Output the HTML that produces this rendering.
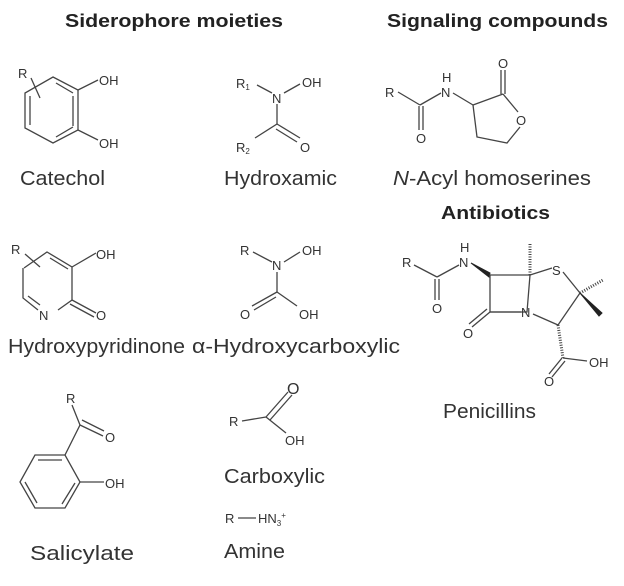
<!DOCTYPE html>
<html><head><style>
body{margin:0;background:#fff}
svg{display:block}
text{font-family:"Liberation Sans",sans-serif;fill:#333}
.l{font-size:20px}
.a{font-size:13px}
.t{font-size:18px;font-weight:bold;fill:#222}
line,polyline,polygon{stroke:#444;stroke-width:1.3;fill:none}
</style></head><body>
<svg width="624" height="586" viewBox="0 0 624 586" xmlns="http://www.w3.org/2000/svg">
<text class="t" x="65" y="27" textLength="218" lengthAdjust="spacingAndGlyphs">Siderophore moieties</text>
<text class="t" x="387" y="27" textLength="221" lengthAdjust="spacingAndGlyphs">Signaling compounds</text>

<!-- Catechol -->
<polygon points="53,77 78,90 78,130 53,143 25,128 25,93"/>
<line x1="56" y1="83" x2="73" y2="93"/>
<line x1="73" y1="96" x2="73" y2="126"/>
<line x1="30" y1="96" x2="30" y2="125"/>
<line x1="56" y1="137" x2="73" y2="127"/>
<line x1="78" y1="90" x2="98" y2="80"/>
<line x1="78" y1="130" x2="98" y2="140"/>
<line x1="31" y1="78" x2="40" y2="98"/>
<text class="a" x="18" y="78">R</text>
<text class="a" x="99" y="85">OH</text>
<text class="a" x="99" y="148">OH</text>
<text class="l" x="20" y="185" textLength="85" lengthAdjust="spacingAndGlyphs">Catechol</text>

<!-- Hydroxamic -->
<text class="a" x="236" y="88">R<tspan font-size="8" dy="2">1</tspan></text>
<text class="a" x="272" y="103">N</text>
<text class="a" x="302" y="87">OH</text>
<text class="a" x="236" y="152">R<tspan font-size="8" dy="2">2</tspan></text>
<text class="a" x="300" y="152">O</text>
<line x1="257" y1="85" x2="272" y2="93"/>
<line x1="284" y1="93" x2="300" y2="84"/>
<line x1="277" y1="104" x2="277" y2="124"/>
<line x1="277" y1="124" x2="255" y2="138"/>
<line x1="277" y1="124" x2="300" y2="138"/>
<line x1="276" y1="129" x2="297" y2="142"/>
<text class="l" x="224" y="185" textLength="113" lengthAdjust="spacingAndGlyphs">Hydroxamic</text>

<!-- Hydroxypyridinone -->
<polyline points="24,268 47,252 72,267 72,300 58,310"/>
<polyline points="38,310 23,298 23,268"/>
<line x1="50" y1="258" x2="68" y2="269"/>
<line x1="28" y1="296" x2="40" y2="305"/>
<line x1="72" y1="267" x2="96" y2="253"/>
<line x1="72" y1="300" x2="96" y2="313"/>
<line x1="70" y1="304" x2="94" y2="317"/>
<line x1="25" y1="254" x2="40" y2="267"/>
<text class="a" x="11" y="254">R</text>
<text class="a" x="39" y="320">N</text>
<text class="a" x="96" y="259">OH</text>
<text class="a" x="96" y="320">O</text>
<text class="l" x="8" y="353" textLength="177" lengthAdjust="spacingAndGlyphs">Hydroxypyridinone</text>

<!-- alpha-hydroxycarboxylic -->
<text class="a" x="240" y="255">R</text>
<text class="a" x="272" y="270">N</text>
<text class="a" x="302" y="255">OH</text>
<text class="a" x="240" y="319">O</text>
<text class="a" x="299" y="319">OH</text>
<line x1="253" y1="252" x2="272" y2="262"/>
<line x1="284" y1="262" x2="300" y2="252"/>
<line x1="277" y1="272" x2="277" y2="292"/>
<line x1="277" y1="292" x2="297" y2="306"/>
<line x1="277" y1="292" x2="252" y2="306"/>
<line x1="276" y1="297" x2="254" y2="310"/>
<text class="l" x="192" y="353" textLength="208" lengthAdjust="spacingAndGlyphs">α-Hydroxycarboxylic</text>

<!-- Salicylate -->
<polygon points="35,455 65,455 80,482 65,508 35,508 20,482"/>
<line x1="38" y1="460" x2="62" y2="460"/>
<line x1="75" y1="483" x2="62" y2="504"/>
<line x1="25" y1="482" x2="37" y2="503"/>
<line x1="65" y1="455" x2="80" y2="425"/>
<line x1="80" y1="425" x2="72" y2="405"/>
<line x1="80" y1="425" x2="103" y2="436"/>
<line x1="82" y1="420" x2="104" y2="431"/>
<line x1="80" y1="482" x2="104" y2="482"/>
<text class="a" x="66" y="403">R</text>
<text class="a" x="105" y="442">O</text>
<text class="a" x="105" y="488">OH</text>
<text class="l" x="30" y="560" textLength="104" lengthAdjust="spacingAndGlyphs">Salicylate</text>

<!-- Carboxylic -->
<text class="a" x="229" y="426">R</text>
<line x1="242" y1="421" x2="266" y2="417"/>
<line x1="266" y1="417" x2="288" y2="392"/>
<line x1="270" y1="420" x2="292" y2="395"/>
<line x1="266" y1="417" x2="286" y2="433"/>
<text x="287" y="394" style="font-size:16px">O</text>
<text class="a" x="285" y="445">OH</text>
<text class="l" x="224" y="483" textLength="101" lengthAdjust="spacingAndGlyphs">Carboxylic</text>
<text class="a" x="225" y="523">R</text>
<line x1="238" y1="518" x2="256" y2="518"/>
<text class="a" x="258" y="523">HN<tspan font-size="8" dy="3">3</tspan><tspan font-size="8" dy="-8">+</tspan></text>
<text class="l" x="224" y="558" textLength="61" lengthAdjust="spacingAndGlyphs">Amine</text>

<!-- N-Acyl homoserine -->
<text class="a" x="385" y="97">R</text>
<line x1="398" y1="92" x2="420" y2="105"/>
<line x1="420" y1="105" x2="441" y2="93"/>
<line x1="419" y1="106" x2="419" y2="130"/>
<line x1="423" y1="106" x2="423" y2="130"/>
<text class="a" x="416" y="143">O</text>
<text class="a" x="441" y="97">N</text>
<text class="a" x="442" y="82">H</text>
<line x1="453" y1="93" x2="473" y2="105"/>
<line x1="473" y1="105" x2="503" y2="94"/>
<line x1="501" y1="94" x2="501" y2="70"/>
<line x1="505" y1="94" x2="505" y2="70"/>
<text class="a" x="498" y="68">O</text>
<line x1="503" y1="94" x2="518" y2="112"/>
<text class="a" x="516" y="125">O</text>
<polyline points="520,127 507,143 477,137 473,105"/>
<text class="l" x="393" y="185" textLength="198" lengthAdjust="spacingAndGlyphs"><tspan font-style="italic">N</tspan>-Acyl homoserines</text>
<text class="t" x="441" y="219" textLength="109" lengthAdjust="spacingAndGlyphs">Antibiotics</text>

<!-- Penicillin -->
<text class="a" x="402" y="267">R</text>
<line x1="414" y1="265" x2="437" y2="277"/>
<line x1="437" y1="277" x2="459" y2="265"/>
<line x1="435" y1="279" x2="435" y2="300"/>
<line x1="439" y1="279" x2="439" y2="300"/>
<text class="a" x="432" y="313">O</text>
<text class="a" x="459" y="267">N</text>
<text class="a" x="460" y="252">H</text>
<polygon points="471,263 490,273 489,277" style="fill:#222;stroke:#222;stroke-width:1"/>
<polygon points="490,275 530,275 527,312 490,312"/>
<line x1="530" y1="275" x2="552" y2="268"/>
<text class="a" x="552" y="275">S</text>
<line x1="563" y1="272" x2="580" y2="293"/>
<line x1="580" y1="293" x2="558" y2="325"/>
<line x1="558" y1="325" x2="533" y2="314"/>
<text class="a" x="521" y="317">N</text>
<line x1="490" y1="312" x2="521" y2="312"/>
<line x1="490" y1="312" x2="472" y2="327"/>
<line x1="487" y1="309" x2="469" y2="324"/>
<text class="a" x="463" y="338">O</text>
<line x1="530" y1="275" x2="530" y2="244" style="stroke-dasharray:1 1.5;stroke-width:3"/>
<line x1="580" y1="293" x2="603" y2="280" style="stroke-dasharray:1 1.5;stroke-width:3"/>
<polygon points="580,293 599,316 602,313" style="fill:#222;stroke:#222;stroke-width:1"/>
<line x1="558" y1="325" x2="563" y2="358" style="stroke-dasharray:1 1.5;stroke-width:3"/>
<line x1="563" y1="358" x2="587" y2="361"/>
<line x1="562" y1="358" x2="549" y2="374"/>
<line x1="565" y1="361" x2="552" y2="377"/>
<text class="a" x="544" y="386">O</text>
<text class="a" x="589" y="367">OH</text>
<text class="l" x="443" y="418" textLength="93" lengthAdjust="spacingAndGlyphs">Penicillins</text>
</svg>
</body></html>
